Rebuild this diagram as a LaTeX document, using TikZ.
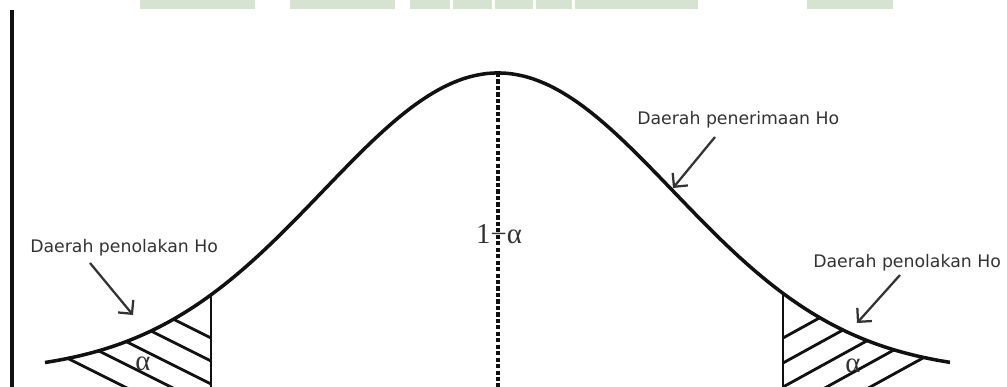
\documentclass[tikz,border=0pt]{standalone}
\usepackage{fontspec}
\setmainfont{DejaVu Sans}
\newfontfamily\greekfont{Liberation Serif}
\usetikzlibrary{calc,arrows.meta}
\definecolor{cink}{HTML}{111111}
\definecolor{ctext}{HTML}{333333}
\definecolor{cmark}{HTML}{D6E3D0}

\begin{document}
\begin{tikzpicture}[x=0.025cm, y=-0.025cm, font=\fontsize{12.3}{14}\selectfont,
  declare function={bell(\t)=373-300*exp(-0.5*((\t-498)/175)*((\t-498)/175));},
  curve/.style={line width=2.5pt, cink},
  hatch/.style={line width=2pt, cink},
  lbl/.style={text=ctext, inner sep=0pt, anchor=base west},
  greek/.style={font=\greekfont\fontsize{20.5}{22}\selectfont, text=ctext, inner sep=0pt, anchor=base},
  arr/.style={-{Straight Barb[length=7pt,width=14pt]}, line width=1.6pt, ctext}]
\useasboundingbox (0,0) rectangle (1007,387);
%% band along the top edge
\foreach \a/\b in {140/255,290/395,410/450,453/492,495/533,536/572,575/698,807/893}
  \fill[cmark] (\a,0) rectangle (\b,9.5);
%% axis
\coordinate (ax0) at (12,10);
\coordinate (ax1) at (12,387);
\draw[line width=2.6pt, cink] (ax0) -- (ax1);
%% bell curve
\coordinate (peak) at (498,{bell(498)});
\coordinate (lcut) at (211,{bell(211)});
\coordinate (rcut) at (783,{bell(783)});
\coordinate (base) at (0,387);
\draw[curve] plot[domain=45:950, samples=220] (\x,{bell(\x)});
\draw[line width=2.4pt, cink, dash pattern=on 3pt off 1.6pt] (peak) -- (peak |- base);
\draw[hatch] (lcut) -- (lcut |- base);
\draw[hatch] (rcut) -- (rcut |- base);
%% left tail
\begin{scope}
  \clip plot[domain=45:211, samples=60] (\x,{bell(\x)}) -- (211,400) -- (45,400) -- cycle;
  \foreach \c in {338,361,384,407,430} \draw[hatch] (20,{\c-95.5}) -- (211,\c);
\end{scope}
%% right tail
\begin{scope}
  \clip plot[domain=783:950, samples=60] (\x,{bell(\x)}) -- (950,400) -- (783,400) -- cycle;
  \foreach \c in {338,363,387,411,435} \draw[hatch] (783,\c) -- (980,{\c-108.4});
\end{scope}
%% texts
\node[greek] (mid) at (499,243) {1−α};
\node[greek] (la) at (143,370) {α};
\node[greek] (ra) at (853,372) {α};
\node[lbl] (acc) at (637,124) {Daerah penerimaan Ho};
\node[lbl] (lrej) at (30,252) {Daerah penolakan Ho};
\node[lbl] (rrej) at (813,267) {Daerah penolakan Ho};
%% arrows
\coordinate (accTip) at (673,188);
\coordinate (lrejTip) at (133,315);
\coordinate (rrejTip) at (857,323);
\draw[arr] ($(acc.base west)+(78,13)$) -- (accTip);
\draw[arr] ($(lrej.base west)+(60,11)$) -- (lrejTip);
\draw[arr] ($(rrej.base west)+(87,8)$) -- (rrejTip);
\end{tikzpicture}
\end{document}
